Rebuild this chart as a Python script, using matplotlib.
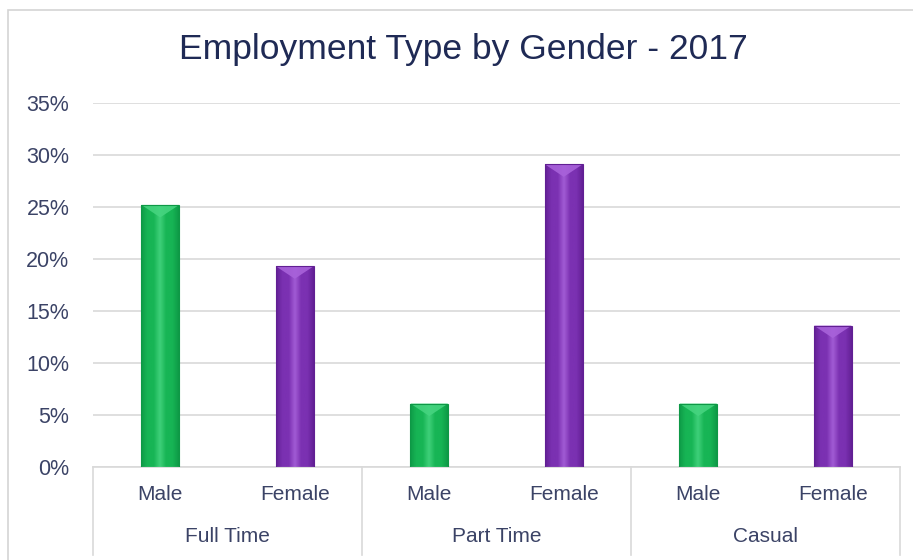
"""
Employment type by gender, 2017: bevelled column chart with grouped category axis.
"""
import matplotlib.pyplot as plt
import numpy as np
from matplotlib.colors import LinearSegmentedColormap
from matplotlib.patches import Polygon, Rectangle
from matplotlib.ticker import FuncFormatter

plt.rcParams['font.family'] = ['Liberation Sans', 'DejaVu Sans']

# Data (percent of employees)
groups = ['Full Time', 'Part Time', 'Casual']
shares = [25.2, 19.3, 6.1, 29.1, 6.1, 13.6]
bar_genders = ['Male', 'Female', 'Male', 'Female', 'Male', 'Female']
y_ticks = [0, 5, 10, 15, 20, 25, 30, 35]

# Face colours: dark edge, main face, highlight
palette = {
    'Male': ('#0e9846', '#17b555', '#45d47f'),
    'Female': ('#611f93', '#7b31b2', '#a862da'),
}
text_color = '#3b4366'
title_color = '#1f2a55'
grid_color = '#d9d9d9'

fig = plt.figure(figsize=(9.13, 5.6), dpi=100)
ax = fig.add_axes([93 / 913, 93 / 560, 807 / 913, 364 / 560])

# Outer chart border (right and bottom edges fall outside the canvas)
fig.patches.append(Rectangle((8 / 913, -0.05), 1.1, 1.05 - 10 / 560,
                             transform=fig.transFigure, fill=False,
                             ec='#d4d4d4', lw=1.2))

xs = np.arange(len(shares))
width = 0.28
bars = ax.bar(xs, shares, width=width, zorder=2,
              color=[palette[g][1] for g in bar_genders], lw=0)

# Shade each column so it reads as a bevelled prism
for bar, gender in zip(bars, bar_genders):
    dark, mid, light = palette[gender]
    x0, h = bar.get_x(), bar.get_height()
    cmap = LinearSegmentedColormap.from_list(
        'bevel', [dark, mid, mid, '#' + light[1:], mid, mid, dark])
    grad = np.linspace(0, 1, 64).reshape(1, -1)
    im = ax.imshow(grad, cmap=cmap, aspect='auto', zorder=3, alpha=0.9,
                   extent=(x0, x0 + width, 0, h), interpolation='bicubic')
    im.set_clip_path(bar)
    # inverted triangle on the top face
    tri_h = 1.2
    top = Polygon([(x0, h), (x0 + width, h), (x0 + width / 2, h - tri_h)],
                  closed=True, fc=light, ec='none', alpha=0.9, zorder=4)
    ax.add_patch(top)
    ax.add_patch(Rectangle((x0, 0), width, h, fill=False, ec=dark,
                           lw=0.8, zorder=5))

ax.set_xlim(-0.5, len(shares) - 0.5)
ax.set_ylim(0, 35)
ax.set_yticks(y_ticks)
ax.yaxis.set_major_formatter(FuncFormatter(lambda v, _: f'{v:.0f}%'))
ax.tick_params(axis='y', length=0, pad=17, labelsize=15.5,
               labelcolor=text_color)
ax.set_xticks([])
ax.grid(axis='y', color=grid_color, lw=1.2, zorder=0)
ax.set_axisbelow(True)
for side in ['top', 'right', 'left']:
    ax.spines[side].set_visible(False)
ax.spines['bottom'].set_color(grid_color)
ax.spines['bottom'].set_linewidth(1.2)

# Two-level category labels
xform = ax.get_xaxis_transform()
for x, gender in zip(xs, bar_genders):
    ax.annotate(gender, (x, 0), xycoords=xform, xytext=(0, -28),
                textcoords='offset pixels', ha='center', va='center',
                fontsize=15, color=text_color)
for i, name in enumerate(groups):
    ax.annotate(name, (2 * i + 0.5, 0), xycoords=xform, xytext=(0, -70),
                textcoords='offset pixels', ha='center', va='center',
                fontsize=15, color=text_color)
for edge in np.arange(-0.5, len(shares), 2):
    ax.plot([edge, edge], [0, -88 / 364], transform=xform, color=grid_color,
            lw=1.2, clip_on=False)

fig.text(463 / 913, 1 - 50 / 560, 'Employment Type by Gender - 2017',
         ha='center', va='center', fontsize=25.5, color=title_color)

fig.savefig('out.png', dpi=100)
